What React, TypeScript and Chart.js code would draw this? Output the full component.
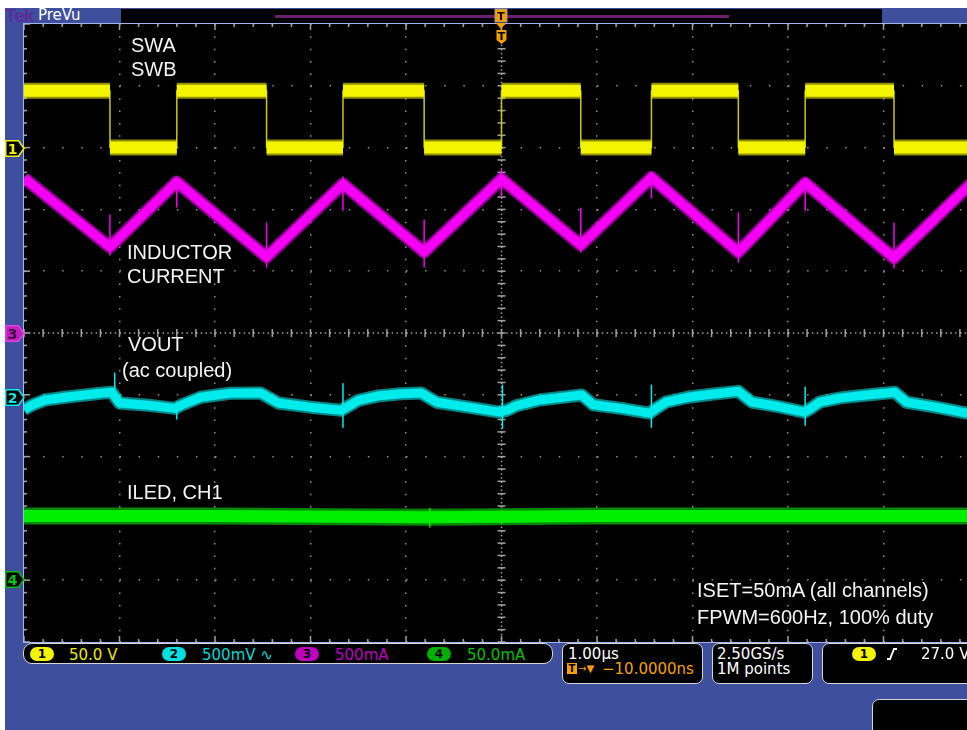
import React, { useEffect, useRef } from 'react';
import { Chart, registerables } from 'chart.js';

Chart.register(...registerables);

// ---------- time base: 1.00 µs/div, 10 div, trigger at centre ----------
const TIME_MIN_US = -5;
const TIME_MAX_US = 5;
const DIV_MIN = -5;
const DIV_MAX = 5;

// ---------- CH1 : SWA / SWB (50.0 V/div, ground +3 div) ----------
const CH1_V_PER_DIV = 50;
const CH1_OFFSET_DIV = 3;
const SW_EDGE_TIMES_US = [-5.0, -4.1, -3.4, -2.46, -1.66, -0.81, 0.0, 0.83, 1.57, 2.48, 3.18, 4.11, 5.0];
const SW_LEVELS_V = [46, 0, 46, 0, 46, 0, 46, 0, 46, 0, 46, 0];

// ---------- CH3 : inductor current (500 mA/div, ground 0 div) ----------
const CH3_MA_PER_DIV = 500;
const CH3_OFFSET_DIV = 0;
const IL_TIMES_US = [-5.0, -4.1, -3.4, -2.46, -1.66, -0.81, 0.0, 0.83, 1.57, 2.48, 3.18, 4.11, 5.0];
const IL_MA = [1254, 696, 1222, 615, 1205, 655, 1246, 712, 1258, 655, 1214, 607, 1270];
const IL_SPIKE_TIMES_US = [-4.1, -3.4, -2.46, -1.66, -0.81, 0.0, 0.83, 1.57, 2.48, 3.18, 4.11];
const IL_SPIKE_HI_MA = [954, 1237, 890, 1262, 914, 1318, 1010, 1302, 970, 1254, 890];
const IL_SPIKE_LO_MA = [631, 1019, 534, 994, 534, 1106, 655, 1092, 574, 994, 526];

// ---------- CH2 : VOUT ac coupled (500 mV/div, ground -1 div) ----------
const CH2_MV_PER_DIV = 500;
const CH2_OFFSET_DIV = -1;
const VOUT_TIMES_US = [
  -5.0, -4.92, -4.78, -4.55, -4.2, -4.08, -4.0, -3.7, -3.42, -3.35, -3.15, -2.84, -2.52, -2.34, -2.0, -1.68,
  -1.62, -1.5, -1.3, -1.05, -0.84, -0.68, -0.35, -0.02, 0.06, 0.15, 0.4, 0.84, 0.96, 1.25, 1.55, 1.62,
  1.72, 1.95, 2.2, 2.48, 2.62, 2.9, 3.17, 3.23, 3.33, 3.55, 3.85, 4.12, 4.24, 4.55, 4.87, 5.0,
];
const VOUT_MV = [
  -120, -85, -42, -18, 12, 20, -66, -85, -110, -82, -20, 12, 14, -66, -100, -125,
  -100, -45, -10, 8, 14, -60, -100, -140, -125, -90, -42, -2, -80, -110, -148, -110,
  -60, -20, 5, 28, -58, -95, -140, -115, -60, -25, 0, 20, -60, -100, -148, -155,
];
const VOUT_SPIKE_TIMES_US = [-4.05, -3.4, -1.66, 0.01, 1.57, 3.18];
const VOUT_SPIKE_HI_MV = [175, -60, 90, 78, 78, 62];
const VOUT_SPIKE_LO_MV = [-45, -195, -262, -270, -262, -246];

// ---------- CH4 : ILED (50.0 mA/div, ground -4 div) ----------
const CH4_MA_PER_DIV = 50;
const CH4_OFFSET_DIV = -4;
const ILED_TIMES_US = [-5.0, -3.0, -0.75, 1.0, 3.0, 5.0];
const ILED_MA = [52, 52, 51, 52, 52, 52];
const ILED_SPIKE_TIMES_US = [-0.75];
const ILED_SPIKE_HI_MA = [58];
const ILED_SPIKE_LO_MA = [43];

// ---------- styling ----------
const BLUE = '#3e4f9e';
const YELLOW = '#f4f400';
const MAGENTA = '#f400f4';
const CYAN = '#00ecec';
const GREEN = '#00ee00';
const GRID = '#8e8e8e';

type Pt = { x: number; y: number | null };

const toDiv = (v: number, perDiv: number, off: number) => off + v / perDiv;

function series(times: number[], vals: number[], perDiv: number, off: number): Pt[] {
  return times.map((t, i) => ({ x: t, y: toDiv(vals[i], perDiv, off) }));
}
function spikes(times: number[], hi: number[], lo: number[], perDiv: number, off: number): Pt[] {
  const out: Pt[] = [];
  times.forEach((t, i) => {
    out.push({ x: t, y: toDiv(hi[i], perDiv, off) }, { x: t, y: toDiv(lo[i], perDiv, off) }, { x: t, y: null });
  });
  return out;
}
function plateaus(edges: number[], levels: number[], perDiv: number, off: number): Pt[] {
  const out: Pt[] = [];
  levels.forEach((lv, i) => {
    const y = toDiv(lv, perDiv, off);
    out.push({ x: edges[i], y }, { x: edges[i + 1], y }, { x: edges[i + 1], y: null });
  });
  return out;
}
function steps(edges: number[], levels: number[], perDiv: number, off: number): Pt[] {
  const out: Pt[] = [];
  levels.forEach((lv, i) => {
    const y = toDiv(lv, perDiv, off);
    out.push({ x: edges[i], y }, { x: edges[i + 1], y });
  });
  return out;
}

function ds(data: Pt[], color: string, width: number, order: number) {
  return {
    data,
    borderColor: color,
    backgroundColor: color,
    borderWidth: width,
    pointRadius: 0,
    fill: false,
    spanGaps: false,
    tension: 0,
    borderJoinStyle: 'round' as const,
    order,
  };
}

const graticulePlugin = {
  id: 'graticule',
  beforeDatasetsDraw(chart: any) {
    const { ctx, chartArea: a, scales } = chart;
    const xs = scales.x;
    const ys = scales.y;
    const cx = xs.getPixelForValue(0);
    const cy = ys.getPixelForValue(0);
    const dx = xs.getPixelForValue(1) - cx;
    const dy = cy - ys.getPixelForValue(1);
    ctx.save();
    ctx.fillStyle = '#a0a0a0';
    for (let py = a.top; py <= a.bottom; py += dy / 15) ctx.fillRect(cx - 0.75, py, 1.5, 1.5);
    for (let k = -25; k <= 25; k++) ctx.fillRect(cx - 4, cy + (k * dy) / 5 - 0.75, 8, 1.5);
    for (let px = a.left; px <= a.right; px += dx / 20) ctx.fillRect(px, cy - 0.75, 1.5, 1.5);
    for (let k = -25; k <= 25; k++) ctx.fillRect(cx + (k * dx) / 5 - 0.75, cy - 4, 1.5, 8);
    for (let k = -25; k <= 25; k++) {
      const L = k % 5 === 0 ? 6 : 3;
      const px = cx + (k * dx) / 5;
      ctx.fillRect(px - 0.75, a.top, 1.5, L);
      ctx.fillRect(px - 0.75, a.bottom - L, 1.5, L);
      const py = cy + (k * dy) / 5;
      ctx.fillRect(a.left, py - 0.75, L, 1.5);
      ctx.fillRect(a.right - L, py - 0.75, L, 1.5);
    }
    ctx.restore();
  },
};

const abs = (l: number, t: number, extra: React.CSSProperties = {}): React.CSSProperties => ({
  position: 'absolute',
  left: l,
  top: t,
  whiteSpace: 'nowrap',
  ...extra,
});

const NOTE: React.CSSProperties = {
  color: '#f4f4f4',
  fontFamily: '"Liberation Sans", Arial, sans-serif',
  fontSize: 20,
  lineHeight: '20px',
};
const UI: React.CSSProperties = {
  fontFamily: '"DejaVu Sans", sans-serif',
  fontSize: 15,
  lineHeight: '15px',
};

function Marker({ top, label, stroke, fill, text }: { top: number; label: string; stroke: string; fill: string; text: string }) {
  return (
    <svg style={abs(5, top)} width={20} height={17}>
      <polygon points="0.75,0.75 13.5,0.75 19,8.5 13.5,16.25 0.75,16.25" fill={fill} stroke={stroke} strokeWidth={1.5} />
      <text x={7.5} y={13.5} textAnchor="middle" fill={text} fontFamily="DejaVu Sans" fontWeight="bold" fontSize={14}>
        {label}
      </text>
    </svg>
  );
}

function Pill({ left, top, color, label }: { left: number; top: number; color: string; label: string }) {
  return (
    <div
      style={abs(left, top, {
        width: 24,
        height: 14,
        borderRadius: 7,
        background: color,
        color: '#000',
        fontFamily: '"DejaVu Sans", sans-serif',
        fontWeight: 'bold',
        fontSize: 12,
        lineHeight: '14px',
        textAlign: 'center',
      })}
    >
      {label}
    </div>
  );
}

const BOX: React.CSSProperties = {
  background: '#000',
  border: '1.5px solid #d6d6d6',
  borderRadius: 7,
  boxSizing: 'border-box',
};

export default function App() {
  const ref = useRef<HTMLCanvasElement>(null);

  useEffect(() => {
    const canvas = ref.current;
    if (!canvas) return;
    const chart = new Chart(canvas, {
      type: 'line',
      data: {
        datasets: [
          ds(series(ILED_TIMES_US, ILED_MA, CH4_MA_PER_DIV, CH4_OFFSET_DIV), 'rgba(0,225,0,0.6)', 17, 3),
          ds(series(ILED_TIMES_US, ILED_MA, CH4_MA_PER_DIV, CH4_OFFSET_DIV), GREEN, 12, 2),
          ds(spikes(ILED_SPIKE_TIMES_US, ILED_SPIKE_HI_MA, ILED_SPIKE_LO_MA, CH4_MA_PER_DIV, CH4_OFFSET_DIV), GREEN, 1.5, 1),
          ds(series(VOUT_TIMES_US, VOUT_MV, CH2_MV_PER_DIV, CH2_OFFSET_DIV), 'rgba(0,225,225,0.6)', 13, 3),
          ds(series(VOUT_TIMES_US, VOUT_MV, CH2_MV_PER_DIV, CH2_OFFSET_DIV), CYAN, 9, 2),
          ds(spikes(VOUT_SPIKE_TIMES_US, VOUT_SPIKE_HI_MV, VOUT_SPIKE_LO_MV, CH2_MV_PER_DIV, CH2_OFFSET_DIV), CYAN, 1.5, 1),
          ds(series(IL_TIMES_US, IL_MA, CH3_MA_PER_DIV, CH3_OFFSET_DIV), 'rgba(240,0,240,0.6)', 13, 3),
          ds(series(IL_TIMES_US, IL_MA, CH3_MA_PER_DIV, CH3_OFFSET_DIV), MAGENTA, 9, 2),
          ds(spikes(IL_SPIKE_TIMES_US, IL_SPIKE_HI_MA, IL_SPIKE_LO_MA, CH3_MA_PER_DIV, CH3_OFFSET_DIV), MAGENTA, 1.5, 1),
          ds(steps(SW_EDGE_TIMES_US, SW_LEVELS_V, CH1_V_PER_DIV, CH1_OFFSET_DIV), '#c8c800', 1.5, 4),
          ds(plateaus(SW_EDGE_TIMES_US, SW_LEVELS_V, CH1_V_PER_DIV, CH1_OFFSET_DIV), 'rgba(240,240,0,0.6)', 16, 3),
          ds(plateaus(SW_EDGE_TIMES_US, SW_LEVELS_V, CH1_V_PER_DIV, CH1_OFFSET_DIV), YELLOW, 12, 2),
        ] as any,
      },
      options: {
        animation: false,
        responsive: false,
        events: [],
        layout: { padding: 0, autoPadding: false },
        plugins: { legend: { display: false }, tooltip: { enabled: false }, title: { display: false } },
        elements: { point: { radius: 0 } },
        scales: {
          x: {
            type: 'linear',
            min: TIME_MIN_US,
            max: TIME_MAX_US,
            ticks: { display: false, stepSize: 1 },
            grid: { color: GRID, lineWidth: 1.5, drawTicks: false },
            border: { display: false, dash: [1.5, 10.86] },
          },
          y: {
            type: 'linear',
            min: DIV_MIN,
            max: DIV_MAX,
            ticks: { display: false, stepSize: 1 },
            grid: { color: GRID, lineWidth: 1.5, drawTicks: false },
            border: { display: false, dash: [1.5, 17.6] },
          },
        },
      } as any,
      plugins: [graticulePlugin],
    });
    return () => chart.destroy();
  }, []);

  return (
    <div style={{ position: 'fixed', left: 0, top: 0, width: 967, height: 730, overflow: 'hidden', background: '#fff' }}>
      <div style={abs(5, 8, { width: 1000, height: 740, background: BLUE })} />

      {/* top bar */}
      <div style={abs(5, 5.5, { color: '#5a2c9c', fontFamily: '"Liberation Sans", Arial, sans-serif', fontWeight: 'bold', fontSize: 19, lineHeight: '19px', letterSpacing: -1 })}>Tek</div>
      <div style={abs(38, 8.3, { ...UI, color: '#fff' })}>PreVu</div>
      <div style={abs(121, 9, { width: 761, height: 14, background: '#000' })} />
      <div style={abs(275, 15, { width: 454, height: 2.5, background: '#6c1f6c' })} />

      {/* graticule background and border */}
      <div style={abs(23, 23, { width: 960, height: 620, background: '#000', borderLeft: '1px solid #a4b4ee', borderTop: '1px solid #a4b4ee', borderBottom: '1px solid #a4b4ee', boxSizing: 'border-box' })} />
      <canvas ref={ref} width={955} height={618} style={abs(24, 24)} />

      {/* trigger position markers */}
      <svg style={abs(494, 8)} width={16} height={38}>
        <rect x={1} y={1} width={12} height={13} fill="#f5a000" stroke="#9a9a9a" strokeWidth={1} />
        <text x={7} y={12} textAnchor="middle" fontFamily="DejaVu Sans" fontWeight="bold" fontSize={11} fill="#000">T</text>
        <polygon points="2,15 12,15 7,21" fill="#f5a000" />
        <path d="M2.5,22 L12.5,22 L12.5,32 L7.5,36 L2.5,32 Z" fill="#f5a000" />
        <text x={7.5} y={32} textAnchor="middle" fontFamily="DejaVu Sans" fontWeight="bold" fontSize={11} fill="#000">T</text>
      </svg>

      {/* channel markers */}
      <Marker top={140} label="1" stroke={YELLOW} fill="#000" text={YELLOW} />
      <Marker top={324.5} label="3" stroke="#e040e0" fill="#c020c0" text="#3a003a" />
      <Marker top={389} label="2" stroke={CYAN} fill="#000" text={CYAN} />
      <Marker top={571} label="4" stroke="#00c000" fill="#000" text="#00d000" />

      {/* annotations */}
      <div style={abs(131, 35.4, NOTE)}>SWA</div>
      <div style={abs(131, 59.4, NOTE)}>SWB</div>
      <div style={abs(127, 242.4, NOTE)}>INDUCTOR</div>
      <div style={abs(127, 266.4, NOTE)}>CURRENT</div>
      <div style={abs(128, 334.4, NOTE)}>VOUT</div>
      <div style={abs(122, 360, NOTE)}>(ac coupled)</div>
      <div style={abs(127, 482.4, NOTE)}>ILED, CH1</div>
      <div style={abs(697, 580.4, NOTE)}>ISET=50mA (all channels)</div>
      <div style={abs(697, 607.4, NOTE)}>FPWM=600Hz, 100% duty</div>

      {/* status bar: channels */}
      <div style={abs(23, 643, { ...BOX, width: 530, height: 21, borderRadius: 9 })} />
      <Pill left={30} top={647} color={YELLOW} label="1" />
      <div style={abs(69, 647.9, { ...UI, color: '#eaea00' })}>50.0 V</div>
      <Pill left={162} top={647} color="#00e0e0" label="2" />
      <div style={abs(202, 647.9, { ...UI, color: '#00d8d8' })}>500mV ∿</div>
      <Pill left={295} top={647} color="#c000c0" label="3" />
      <div style={abs(335, 647.9, { ...UI, color: '#c000c0' })}>500mA</div>
      <Pill left={427} top={647} color="#00b000" label="4" />
      <div style={abs(467, 647.9, { ...UI, color: '#00c000' })}>50.0mA</div>

      {/* horizontal */}
      <div style={abs(562, 643, { ...BOX, width: 141, height: 41 })} />
      <div style={abs(568, 646.6, { ...UI, color: '#fff' })}>1.00µs</div>
      <div style={abs(567, 663, { width: 10, height: 11, background: '#f5a000', color: '#000', fontFamily: '"DejaVu Sans", sans-serif', fontWeight: 'bold', fontSize: 10, lineHeight: '11px', textAlign: 'center' })}>T</div>
      <div style={abs(578, 662, { color: '#f5a000', fontFamily: '"DejaVu Sans", sans-serif', fontSize: 10, lineHeight: '13px' })}>→▼</div>
      <div style={abs(602, 661.6, { ...UI, color: '#f5a000' })}>−10.0000ns</div>

      {/* acquisition */}
      <div style={abs(712, 643, { ...BOX, width: 101, height: 41 })} />
      <div style={abs(717, 646.6, { ...UI, color: '#fff' })}>2.50GS/s</div>
      <div style={abs(717, 661.6, { ...UI, color: '#fff' })}>1M points</div>

      {/* trigger */}
      <div style={abs(822, 643, { ...BOX, width: 200, height: 41 })} />
      <Pill left={852} top={647} color={YELLOW} label="1" />
      <svg style={abs(884, 647)} width={16} height={14}>
        <polyline points="3,12 6,12 10,2 13,2" fill="none" stroke="#fff" strokeWidth={1.8} />
      </svg>
      <div style={abs(921, 646.6, { ...UI, color: '#fff' })}>27.0 V</div>

      {/* bottom-right box */}
      <div style={abs(872, 699, { ...BOX, width: 130, height: 45 })} />
    </div>
  );
}
